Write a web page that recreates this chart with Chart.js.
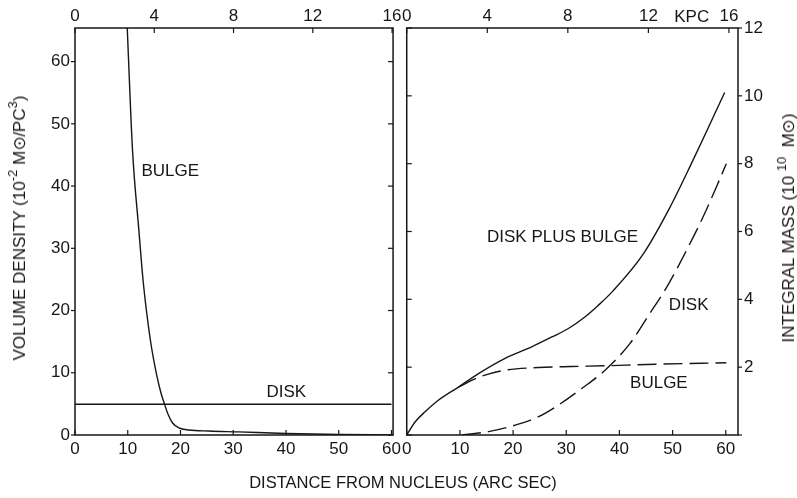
<!DOCTYPE html>
<html lang="en">
<head>
<meta charset="UTF-8" />
<title>Volume density and integral mass</title>
<script src="https://cdn.jsdelivr.net/npm/chart.js"></script>
<style>
  body { margin: 0; background: #fff; font-family: "Liberation Sans", Arial, sans-serif; color: #161616; }
  #page { position: relative; width: 797px; height: 498px; overflow: hidden; background: #fff; }
  .box { position: absolute; top: 0; height: 498px; }
  #leftBox { left: 0; width: 405px; }
  #rightBox { left: 398px; width: 399px; }
  .title { position: absolute; white-space: nowrap; font-size: 16.5px; line-height: 16px; transform: translate(-50%, -50%); }
  .vert { font-size: 17px; transform: translate(-50%, -50%) rotate(-90deg); }
  sup { font-size: 13px; line-height: 0; vertical-align: 8px; }
</style>
</head>
<body>
<div id="page">
  <div class="box" id="leftBox"><canvas id="densityChart"></canvas></div>
  <div class="box" id="rightBox"><canvas id="massChart"></canvas></div>
  <div class="title vert" style="left:20px; top:228px">VOLUME DENSITY (10<sup>-2</sup> M⊙/PC<sup>3</sup>)</div>
  <div class="title vert" style="left:789px; top:228px">INTEGRAL MASS (10 <sup>10</sup>&nbsp;&nbsp;M⊙)</div>
  <div class="title" style="left:403px; top:482px">DISTANCE FROM NUCLEUS (ARC SEC)</div>
</div>

<script>
  // left panel: volume density, 10^-2 Msun/pc^3, against arc sec
  const bulgeDensityX = [9.9, 10.9, 12.1, 12.9, 13.6, 14.5, 15.4, 16.3, 16.9, 17.7, 18.5, 19.7, 21.6, 25.4, 31, 40, 50, 60];
  const bulgeDensityY = [65.5, 45.8, 33.0, 24.9, 19.6, 14.1, 10.0, 6.75, 5.14, 3.2, 1.93, 1.13, 0.8, 0.64, 0.5, 0.25, 0.08, 0.02];
  const diskDensityX = [0, 60];
  const diskDensityY = [4.95, 4.95];

  // right panel: integral mass, 10^10 Msun
  const totalMassX = [0, 1.6, 3.5, 6.0, 9.8, 13.5, 18.5, 23.5, 27.3, 30.4, 33.5, 36.0, 38.8, 44.5, 49.5, 53.8, 57.6, 59.8];
  const totalMassY = [0, 0.39, 0.69, 1.03, 1.42, 1.81, 2.26, 2.60, 2.89, 3.14, 3.48, 3.82, 4.25, 5.34, 6.71, 8.09, 9.36, 10.1];
  const diskMassX = [10.4, 15.4, 20.4, 24.8, 28.5, 32.9, 37.3, 42.0, 45.7, 48.9, 52.6, 55.7, 58.2, 60.1];
  const diskMassY = [0, 0.10, 0.29, 0.54, 0.88, 1.37, 1.91, 2.70, 3.58, 4.36, 5.44, 6.42, 7.30, 8.0];
  const bulgeMassX = [9.8, 13.5, 18.5, 24.8, 31.0, 37.3, 45.1, 60.1];
  const bulgeMassY = [1.42, 1.70, 1.91, 1.99, 2.02, 2.04, 2.08, 2.13];

  // tick labels
  const arcsecTicks = [0, 10, 20, 30, 40, 50, 60];
  const kpcTicks = [0, 4, 8, 12, 16];
  const densityTicks = [0, 10, 20, 30, 40, 50, 60];
  const massTicks = [0, 2, 4, 6, 8, 10, 12];

  const INK = '#161616';
  Chart.defaults.font.family = '"Liberation Sans", Arial, sans-serif';
  Chart.defaults.color = INK;

  function pts(xs, ys) {
    return xs.map((x, i) => ({ x: x, y: ys[i] }));
  }

  function curve(xs, ys, dashed) {
    return {
      data: pts(xs, ys),
      borderColor: INK,
      borderWidth: 1.4,
      borderDash: dashed ? [19, 7] : [],
      pointRadius: 0,
      cubicInterpolationMode: 'monotone'
    };
  }

  // frame, inward/outward tick marks and the curve labels
  const framePlugin = {
    id: 'frame',
    afterDraw(chart, args, opts) {
      const { ctx, chartArea: a, scales } = chart;
      const line = (x1, y1, x2, y2) => { ctx.beginPath(); ctx.moveTo(x1, y1); ctx.lineTo(x2, y2); ctx.stroke(); };
      ctx.save();
      ctx.strokeStyle = INK;
      ctx.lineWidth = 1.5;
      ctx.strokeRect(a.left, a.top, a.right - a.left, a.bottom - a.top);
      ctx.lineWidth = 1.2;
      scales.x.ticks.forEach(t => { const p = scales.x.getPixelForValue(t.value); line(p, a.bottom, p, a.bottom - 5); });
      scales.x2.ticks.forEach(t => { const p = scales.x2.getPixelForValue(t.value); line(p, a.top, p, a.top + 5); });
      const left = opts.side === 'left';
      const outer = left ? a.left : a.right;
      const inner = left ? a.right : a.left;
      const dir = left ? -1 : 1;
      scales.y.ticks.forEach(t => {
        const p = scales.y.getPixelForValue(t.value);
        line(outer, p, outer + dir * 4, p);
        line(inner, p, inner + dir * 5, p);
      });
      ctx.fillStyle = INK;
      ctx.font = '17px "Liberation Sans", Arial, sans-serif';
      ctx.textBaseline = 'middle';
      (opts.notes || []).forEach(n => {
        ctx.textAlign = n.align || 'left';
        ctx.fillText(n.text, scales[n.axis || 'x'].getPixelForValue(n.x), scales.y.getPixelForValue(n.y));
      });
      ctx.restore();
    }
  };

  function panel(id, side, datasets, xMax, kpcMax, yMax, yTicks, pad, notes) {
    const setTicks = list => s => { s.ticks = list.map(v => ({ value: v })); };
    const flat = { display: false, drawTicks: false };
    new Chart(document.getElementById(id), {
      type: 'line',
      data: { datasets: datasets },
      options: {
        responsive: true,
        maintainAspectRatio: false,
        animation: false,
        events: [],
        layout: { padding: pad },
        plugins: { legend: { display: false }, tooltip: { enabled: false }, frame: { side: side, notes: notes } },
        scales: {
          x: {
            type: 'linear', position: 'bottom', min: 0, max: xMax,
            afterBuildTicks: setTicks(arcsecTicks),
            afterFit: s => { s.height = 63; },
            grid: flat, border: { display: false },
            ticks: { padding: 4, autoSkip: false, maxRotation: 0, font: { size: 17 } }
          },
          x2: {
            type: 'linear', position: 'top', min: 0, max: kpcMax,
            afterBuildTicks: setTicks(kpcTicks),
            afterFit: s => { s.height = 28; },
            grid: flat, border: { display: false },
            ticks: { padding: 1, autoSkip: false, maxRotation: 0, font: { size: 17 } }
          },
          y: {
            type: 'linear', position: side, min: 0, max: yMax,
            afterBuildTicks: setTicks(yTicks),
            afterFit: s => { s.width = side === 'left' ? 75 : 59; },
            grid: flat, border: { display: false },
            ticks: {
              padding: side === 'left' ? 5 : 6, autoSkip: false, font: { size: 17 },
              callback: v => (side === 'right' && v === 0) ? '' : v
            }
          }
        }
      },
      plugins: [framePlugin]
    });
  }

  panel('densityChart', 'left',
    [curve(bulgeDensityX, bulgeDensityY, false), curve(diskDensityX, diskDensityY, false)],
    60.3, 16.05, 65.4, densityTicks, { left: 0, right: 9, top: 0, bottom: 0 },
    [
      { text: 'BULGE', x: 12.6, y: 42.3 },
      { text: 'DISK', x: 36.3, y: 6.9 }
    ]);

  panel('massChart', 'right',
    [curve(totalMassX, totalMassY, false), curve(diskMassX, diskMassY, true), curve(bulgeMassX, bulgeMassY, true)],
    62.3, 16.45, 12, massTicks, { left: 8, right: 0, top: 0, bottom: 0 },
    [
      { text: 'DISK PLUS BULGE', x: 15.1, y: 5.82 },
      { text: 'DISK', x: 49.3, y: 3.82 },
      { text: 'BULGE', x: 42.0, y: 1.53 },
      { text: 'KPC', x: 14.15, y: 12.32, axis: 'x2', align: 'center' }
    ]);
</script>
</body>
</html>
